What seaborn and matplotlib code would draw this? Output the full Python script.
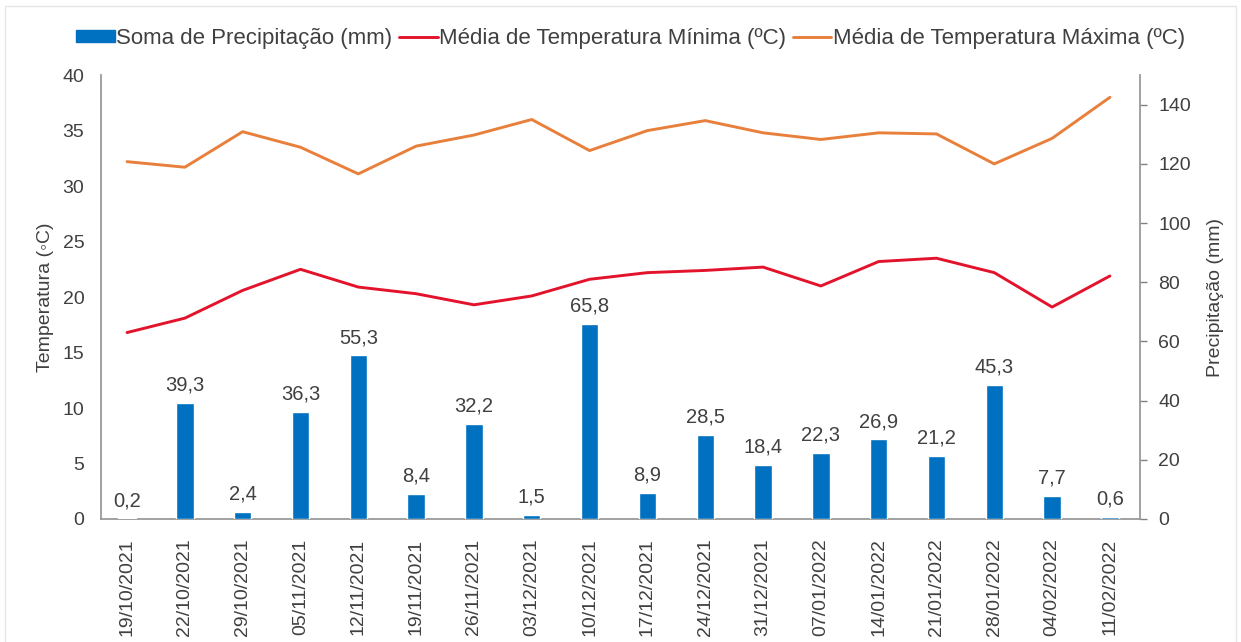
import numpy as np
import pandas as pd
import matplotlib
matplotlib.use('Agg')
import matplotlib.pyplot as plt
import seaborn as sns
from matplotlib.patches import Rectangle
from matplotlib.lines import Line2D

sns.set_style('white')
plt.rcParams['font.family'] = ['Liberation Sans', 'DejaVu Sans']

# data
datas = ['19/10/2021', '22/10/2021', '29/10/2021', '05/11/2021', '12/11/2021', '19/11/2021',
         '26/11/2021', '03/12/2021', '10/12/2021', '17/12/2021', '24/12/2021', '31/12/2021',
         '07/01/2022', '14/01/2022', '21/01/2022', '28/01/2022', '04/02/2022', '11/02/2022']
precip = [0.2, 39.3, 2.4, 36.3, 55.3, 8.4, 32.2, 1.5, 65.8, 8.9, 28.5, 18.4,
          22.3, 26.9, 21.2, 45.3, 7.7, 0.6]
temp_min = [16.8, 18.1, 20.6, 22.5, 20.9, 20.3, 19.3, 20.1, 21.6, 22.2, 22.4, 22.7,
            21.0, 23.2, 23.5, 22.2, 19.1, 21.9]
temp_max = [32.2, 31.7, 34.9, 33.5, 31.1, 33.6, 34.6, 36.0, 33.2, 35.0, 35.9, 34.8,
            34.2, 34.8, 34.7, 32.0, 34.3, 38.0]

blue = '#0070C0'
red = '#E3132C'
orange = '#E8803C'
grey_txt = '#404040'

df = pd.DataFrame({'idx': np.arange(len(datas)), 'data': datas, 'precip': precip,
                   'tmin': temp_min, 'tmax': temp_max})

fig = plt.figure(figsize=(12.41, 6.42), dpi=100)
ax = fig.add_axes([0.0814, 0.1916, 0.8372, 0.6914])
ax2 = ax.twinx()

# bars on the secondary axis
sns.barplot(data=df, x='idx', y='precip', color=blue, width=0.3, saturation=1,
            ax=ax2, zorder=2)
labels = [f'{v:.1f}'.replace('.', ',') for v in precip]
ax2.bar_label(ax2.containers[0], labels=labels, padding=6, fontsize=14.5, color=grey_txt)

# temperature lines on primary axis
sns.lineplot(data=df, x='idx', y='tmin', color=red, linewidth=2.1, ax=ax)
sns.lineplot(data=df, x='idx', y='tmax', color=orange, linewidth=2.1, ax=ax)

ax.set_xlim(-0.45, 17.52)
ax.set_ylim(0, 40)
ax.set_yticks(range(0, 41, 5))
ax2.set_ylim(0, 150)
ax2.set_yticks(range(0, 141, 20))

ax.set_xticks(range(len(datas)))
ax.set_xticklabels(datas, rotation=90, fontsize=14, color=grey_txt)
ax.tick_params(axis='y', labelsize=14, labelcolor=grey_txt, length=0, pad=12)
ax.tick_params(axis='x', length=0, pad=14)
ax2.tick_params(axis='y', labelsize=14, labelcolor=grey_txt, length=5, width=1,
                color='#808080', direction='out', pad=8, right=True)

ax.set_xlabel('')
ax.set_ylabel('Temperatura (◦C)', fontsize=14, color=grey_txt, labelpad=6)
ax2.set_ylabel('Precipitação (mm)', fontsize=14, color=grey_txt, labelpad=12)

for a in (ax, ax2):
    for s in a.spines.values():
        s.set_visible(False)
ax.spines['left'].set_visible(True)
ax.spines['bottom'].set_visible(True)
ax2.spines['right'].set_visible(True)
for s in (ax.spines['left'], ax.spines['bottom'], ax2.spines['right']):
    s.set_color('#9A9A9A')
    s.set_linewidth(1.3)

handles = [Rectangle((0, 0), 1, 1, color=blue),
           Line2D([0], [0], color=red, linewidth=2.1),
           Line2D([0], [0], color=orange, linewidth=2.1)]
names = ['Soma de Precipitação (mm)', 'Média de Temperatura Mínima (ºC)',
         'Média de Temperatura Máxima (ºC)']
fig.legend(handles, names, loc='center', bbox_to_anchor=(0.508, 0.94), ncol=3,
           frameon=False, fontsize=16, handlelength=1.75, handleheight=0.45,
           handletextpad=0.05, columnspacing=0.3, labelcolor=grey_txt)

# faint chart-area border
fig.add_artist(Rectangle((0.004, -0.1), 0.992, 1.09, transform=fig.transFigure,
                         fill=False, edgecolor='#E6E6E6', linewidth=1))

fig.savefig('out.png', dpi=100)
